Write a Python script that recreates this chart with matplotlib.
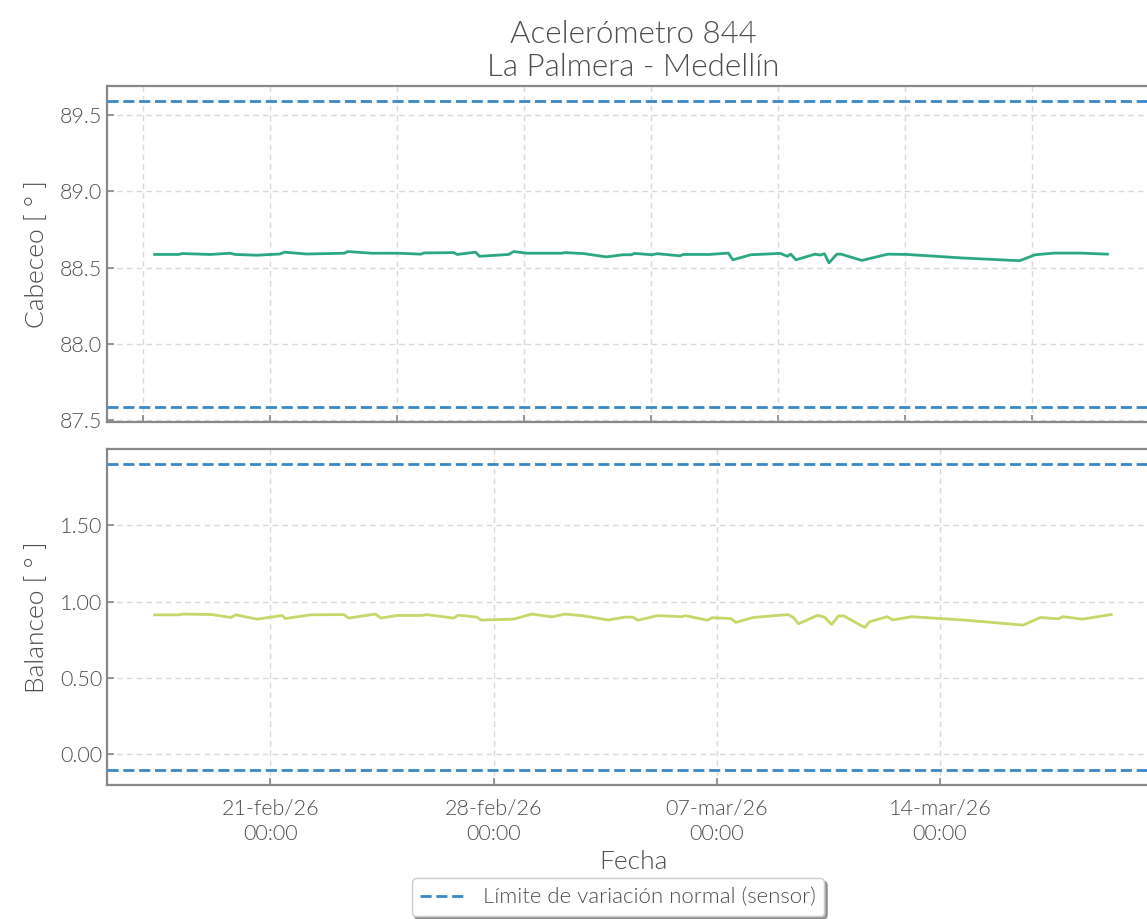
import matplotlib
matplotlib.use("Agg")
import matplotlib.pyplot as plt
import matplotlib.dates as mdates
import pandas as pd
from matplotlib.ticker import FuncFormatter

plt.rcParams['font.family'] = ['Lato', 'DejaVu Sans']
plt.rcParams['font.weight'] = 300
plt.rcParams['axes.titleweight'] = 300
plt.rcParams['axes.labelweight'] = 300

# ---- data ----
t_cab = ["2026-02-17 09:00", "2026-02-18 03:00", "2026-02-18 06:00", "2026-02-19 03:00",
         "2026-02-19 18:00", "2026-02-19 22:00", "2026-02-20 14:00", "2026-02-21 07:30",
         "2026-02-21 11:15", "2026-02-22 03:36", "2026-02-23 08:25", "2026-02-23 10:54",
         "2026-02-24 05:42", "2026-02-25 01:48", "2026-02-25 18:07", "2026-02-25 20:36",
         "2026-02-26 19:09", "2026-02-26 21:38", "2026-02-27 11:30", "2026-02-27 14:30",
         "2026-02-28 12:31", "2026-02-28 16:18", "2026-03-01 02:18", "2026-03-02 04:38",
         "2026-03-02 07:12", "2026-03-02 20:57", "2026-03-03 14:28", "2026-03-04 02:35",
         "2026-03-04 09:09", "2026-03-04 11:46", "2026-03-05 00:51", "2026-03-05 04:46",
         "2026-03-05 21:50", "2026-03-06 00:29", "2026-03-06 20:07", "2026-03-07 10:34",
         "2026-03-07 13:57", "2026-03-08 03:33", "2026-03-09 01:49", "2026-03-09 07:05",
         "2026-03-09 09:43", "2026-03-09 13:38", "2026-03-10 04:05", "2026-03-10 08:00",
         "2026-03-10 11:10", "2026-03-10 14:33", "2026-03-10 20:33", "2026-03-10 23:43",
         "2026-03-11 15:26", "2026-03-12 11:04", "2026-03-13 01:30", "2026-03-14 19:29",
         "2026-03-16 14:40", "2026-03-17 02:28", "2026-03-17 16:55", "2026-03-18 12:33",
         "2026-03-19 09:00"]
cabeceo = [88.587, 88.587, 88.593, 88.587, 88.595, 88.587, 88.582, 88.590,
           88.602, 88.590, 88.595, 88.606, 88.595, 88.595, 88.589, 88.597,
           88.599, 88.587, 88.602, 88.575, 88.587, 88.606, 88.595, 88.595,
           88.599, 88.593, 88.571, 88.585, 88.585, 88.594, 88.585, 88.592,
           88.578, 88.587, 88.587, 88.596, 88.552, 88.585, 88.594, 88.575,
           88.589, 88.552, 88.589, 88.583, 88.592, 88.532, 88.589, 88.589,
           88.548, 88.589, 88.587, 88.564, 88.546, 88.585, 88.596, 88.596,
           88.589]

t_bal = ["2026-02-17 09:00", "2026-02-18 03:00", "2026-02-18 06:00", "2026-02-19 04:10",
         "2026-02-19 18:00", "2026-02-19 22:00", "2026-02-20 14:00", "2026-02-21 08:48",
         "2026-02-21 11:15", "2026-02-22 06:05", "2026-02-23 07:08", "2026-02-23 10:54",
         "2026-02-24 06:59", "2026-02-24 11:16", "2026-02-24 23:18", "2026-02-25 18:07",
         "2026-02-25 21:21", "2026-02-26 17:53", "2026-02-26 21:38", "2026-02-27 11:30",
         "2026-02-27 14:30", "2026-02-28 15:01", "2026-03-01 04:51", "2026-03-01 19:54",
         "2026-03-02 05:54", "2026-03-02 19:40", "2026-03-03 14:28", "2026-03-04 02:35",
         "2026-03-04 09:09", "2026-03-04 12:32", "2026-03-05 03:30", "2026-03-05 21:50",
         "2026-03-06 00:29", "2026-03-06 16:57", "2026-03-06 20:38", "2026-03-07 10:34",
         "2026-03-07 14:28", "2026-03-08 03:33", "2026-03-09 05:48", "2026-03-09 09:43",
         "2026-03-09 13:38", "2026-03-10 04:05", "2026-03-10 09:15", "2026-03-10 14:33",
         "2026-03-10 19:48", "2026-03-10 23:43", "2026-03-11 15:26", "2026-03-11 19:21",
         "2026-03-12 08:31", "2026-03-12 12:25", "2026-03-13 02:47", "2026-03-14 19:29",
         "2026-03-16 14:40", "2026-03-17 03:49", "2026-03-17 16:55", "2026-03-17 20:50",
         "2026-03-18 11:17", "2026-03-19 09:00"]
balanceo = [0.914, 0.914, 0.919, 0.916, 0.897, 0.914, 0.886, 0.910,
            0.890, 0.914, 0.916, 0.893, 0.919, 0.893, 0.910, 0.910,
            0.916, 0.893, 0.912, 0.899, 0.880, 0.886, 0.919, 0.901,
            0.919, 0.908, 0.880, 0.899, 0.899, 0.879, 0.909, 0.902,
            0.909, 0.879, 0.895, 0.890, 0.865, 0.897, 0.916, 0.897,
            0.856, 0.911, 0.899, 0.851, 0.907, 0.907, 0.831, 0.870,
            0.902, 0.881, 0.902, 0.879, 0.847, 0.897, 0.888, 0.902,
            0.886, 0.916]

lim_cab = [87.59, 89.59]
lim_bal = [-0.10, 1.90]

titulo = "Acelerómetro 844\nLa Palmera - Medellín"
legend_label = "Límite de variación normal (sensor)"
meses = {1: "ene", 2: "feb", 3: "mar", 4: "abr"}

tc = pd.to_datetime(t_cab)
tb = pd.to_datetime(t_bal)

# ---- figure ----
W, H = 1147, 919
fig = plt.figure(figsize=(W / 100, H / 100), dpi=100)
left = 107 / W
right = 1159 / W
ax1 = fig.add_axes([left, 1 - 422 / H, right - left, (422 - 86) / H])
ax2 = fig.add_axes([left, 1 - 785 / H, right - left, (785 - 449) / H])

txt_col = "#4d4d4d"
spine_col = "#888888"
green = "#2ba883"
yellow = "#c6d86a"
blue = "#3a88c6"
dash = (0, (4, 1.7))

ax1.plot(tc, cabeceo, color=green, lw=2, zorder=3)
for v in lim_cab:
    ax1.axhline(v, color=blue, ls=dash, lw=2, zorder=2)
ax2.plot(tb, balanceo, color=yellow, lw=2, zorder=3)
for i, v in enumerate(lim_bal):
    ax2.axhline(v, color=blue, ls=dash, lw=2, zorder=2,
                label=legend_label if i == 0 else None)

ax1.set_ylim(87.49, 89.69)
ax2.set_ylim(-0.2, 2.0)
xmin = tc[0] - (tc[-1] - tc[0]) * 0.05
xmax = tc[-1] + (tc[-1] - tc[0]) * 0.05
for ax in (ax1, ax2):
    ax.set_xlim(xmin, xmax)
    ax.grid(True, color="#d9d9d9", ls=(0, (4, 3)), lw=1)
    ax.set_axisbelow(True)
    for s in ax.spines.values():
        s.set_color(spine_col)
        s.set_linewidth(1.6)
    ax.tick_params(direction="in", colors=spine_col, labelcolor=txt_col,
                   labelsize=15.5, length=5, width=1.2)

ax1.set_yticks([87.5, 88.0, 88.5, 89.0, 89.5])
ax1.yaxis.set_major_formatter(FuncFormatter(lambda v, p: f"{v:.1f}"))
ax2.set_yticks([0.0, 0.5, 1.0, 1.5])
ax2.yaxis.set_major_formatter(FuncFormatter(lambda v, p: f"{v:.2f}"))

ax1.set_xticks(pd.date_range("2026-02-17", "2026-03-21", freq="4D"))
ax1.tick_params(labelbottom=False)

ax2.set_xticks(pd.date_range("2026-02-21", "2026-03-20", freq="7D"))
def fmt_date(x, pos):
    d = mdates.num2date(x)
    return f"{d.day:02d}-{meses[d.month]}/{d.strftime('%y')}\n{d.strftime('%H:%M')}"
ax2.xaxis.set_major_formatter(FuncFormatter(fmt_date))
ax2.tick_params(axis="x", pad=10)
for lbl in ax2.get_xticklabels():
    lbl.set_linespacing(1.35)

ax1.set_ylabel("Cabeceo [ ° ]", fontsize=19, color=txt_col, labelpad=8)
ax2.set_ylabel("Balanceo [ ° ]", fontsize=19, color=txt_col, labelpad=8)
ax2.set_xlabel("Fecha", fontsize=19, color=txt_col, labelpad=4)
ax1.set_title(titulo, fontsize=22.5, color=txt_col, pad=7, linespacing=1.2)

leg = ax2.legend(loc="upper center", bbox_to_anchor=(0.4857, -0.245), fontsize=16,
                 frameon=True, shadow=True, fancybox=True, handlelength=1.9,
                 handletextpad=0.9, borderpad=0.4)
leg.get_frame().set_edgecolor("#cccccc")
for t in leg.get_texts():
    t.set_color(txt_col)

fig.savefig("out.png", dpi=100)
